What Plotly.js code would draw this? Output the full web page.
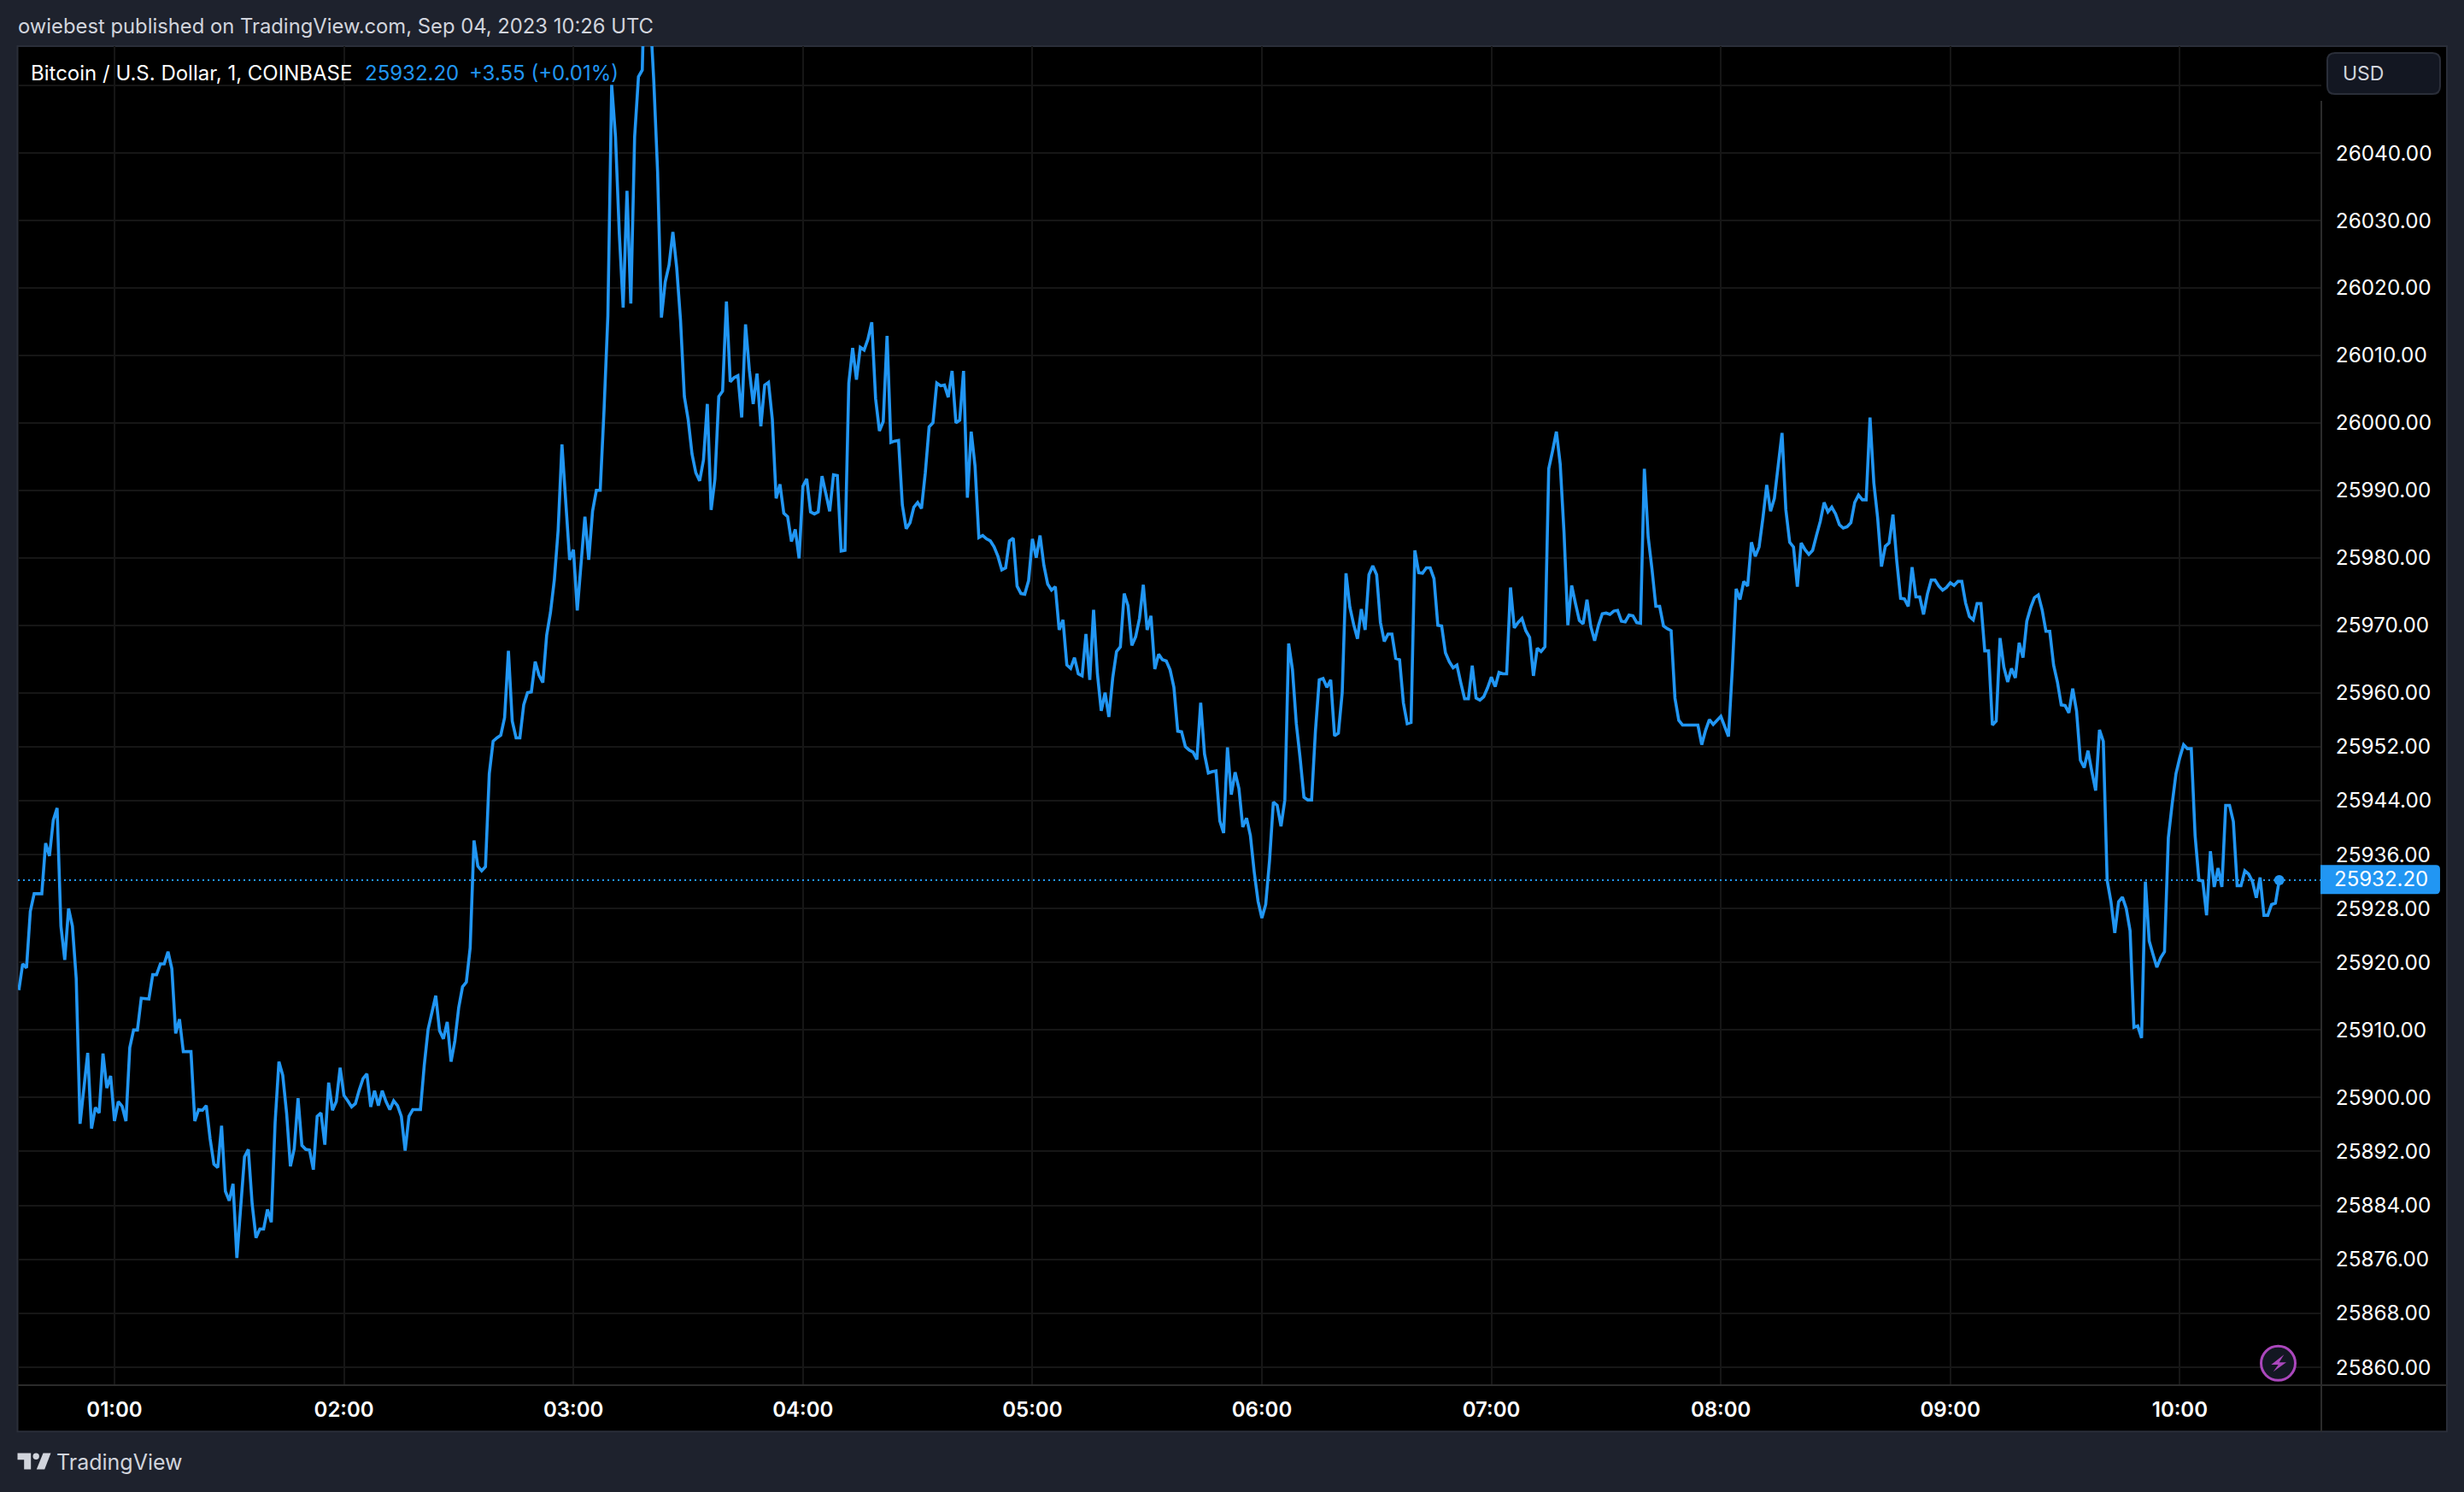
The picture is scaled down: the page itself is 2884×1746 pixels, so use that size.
<!DOCTYPE html>
<html>
<head>
<meta charset="utf-8">
<script src="https://cdn.plot.ly/plotly-3.0.1.min.js"></script>
<style>html,body{margin:0;padding:0;background:#1E222D;}#chart{width:2884px;height:1746px;}</style>
</head>
<body>
<div id="chart"></div>
<script>
// Minutes after 00:00 UTC, 4 Sep 2023
const minutes = [
35,36,37,38,39,41,42,43,44,45,46,47,48,49,50,51,53,54,55,56,57,58,59,
60,61,62,63,64,65,66,67,69,70,71,72,73,74,75,76,77,78,80,81,82,83,84,85,86,87,88,89,90,91,92,94,95,96,97,98,99,100,101,102,103,104,105,106,107,108,109,110,111,112,113,114,115,116,117,118,119,
120,121,122,123,124,125,126,127,128,129,130,131,132,133,134,135,136,137,138,140,141,142,144,145,146,147,148,149,150,151,152,153,154,155,156,157,158,159,160,161,162,163,164,165,166,167,168,169,170,171,172,173,174,175,176,177,179,
180,181,183,184,185,186,187,188,189,190,191,192,193,194,195,196,197,198,199,200,201,202,203,204,205,206,207,208,209,210,211,212,213,214,215,216,217,218,219,220,221,222,223,224,225,226,227,228,229,230,231,232,233,234,235,236,237,238,239,
240,241,242,243,244,245,246,247,248,249,250,251,252,253,254,255,256,257,258,259,260,261,262,263,264,265,266,267,268,269,270,271,272,273,274,275,276,277,278,279,280,281,282,283,284,285,286,287,288,289,290,291,292,293,294,295,296,297,298,299,
300,301,302,303,304,305,306,307,308,309,310,311,312,313,314,315,316,317,318,319,320,321,322,323,324,325,326,327,328,329,330,331,332,333,334,335,336,337,338,339,340,341,342,343,344,345,346,347,348,349,350,351,352,353,354,355,356,357,358,359,
360,361,362,363,364,365,366,367,368,369,370,371,372,373,374,375,376,377,378,379,380,381,382,383,384,385,386,387,388,389,390,391,392,393,394,395,396,397,398,399,400,401,402,403,404,405,406,407,408,409,410,411,412,413,414,415,416,417,418,419,
420,421,422,423,424,425,426,427,428,429,430,431,432,433,434,435,436,437,438,439,440,441,442,443,444,445,446,447,448,449,450,451,452,453,454,455,456,457,458,459,460,461,462,463,464,465,466,467,468,469,470,471,472,473,474,475,476,477,478,479,
480,481,482,483,484,485,486,487,488,489,490,491,492,493,494,495,496,497,498,499,500,501,502,503,504,505,506,507,508,509,510,511,512,513,514,515,516,517,518,519,520,521,522,523,524,525,526,527,528,529,530,531,532,533,534,535,536,537,538,539,
540,541,542,543,544,545,546,547,548,549,550,551,552,553,554,555,556,557,558,559,560,561,562,563,564,565,566,567,568,569,570,571,572,573,574,575,576,577,578,579,580,581,582,583,584,585,586,587,588,589,590,591,592,593,594,595,596,597,598,599,
600,601,602,603,604,605,606,607,608,609,610,611,612,613,614,615,616,617,618,619,620,621,622,623,624,625,626
];
const prices = [
25915.9,25919.8,25919.2,25927.6,25930.2,25930.2,25937.7,25935.8,25941.1,25942.9,25925.4,25920.4,25928.0,25925.4,25917.6,25896.1,25906.6,25895.4,25898.5,25897.7,25906.5,25901.4,25903.2,
25896.5,25899.4,25898.7,25896.5,25907.4,25910.0,25910.0,25914.7,25914.6,25918.2,25918.2,25919.8,25919.8,25921.6,25919.1,25909.5,25911.6,25906.8,25906.8,25896.5,25898.2,25898.1,25898.8,25893.9,25890.1,25889.6,25895.8,25886.1,25884.7,25887.2,25876.2,25891.2,25892.3,25884.2,25879.2,25880.5,25880.5,25883.4,25881.5,25896.3,25905.3,25903.3,25897.7,25889.8,25892.4,25899.9,25892.9,25892.3,25892.2,25889.3,25897.2,25897.7,25893.0,25902.2,25898.1,25899.4,25904.4,
25900.3,25899.5,25898.6,25899.1,25901.1,25902.8,25903.5,25898.6,25901.0,25898.8,25901.0,25899.4,25898.2,25899.5,25898.8,25897.2,25892.1,25897.2,25898.2,25898.2,25904.8,25910.1,25915.1,25909.9,25908.7,25911.2,25905.3,25908.4,25913.3,25916.4,25917.1,25922.2,25938.1,25934.3,25933.6,25934.2,25948.0,25952.8,25953.3,25953.7,25956.3,25966.2,25955.8,25953.3,25953.3,25958.2,25960.0,25960.1,25964.6,25962.6,25961.5,25968.5,25971.9,25976.7,25984.1,25996.8,25979.7,
25981.2,25972.2,25986.1,25979.7,25986.9,25990.0,25990.0,26001.9,26015.8,26050.1,26042.4,26028.0,26017.1,26034.4,26017.7,26042.4,26051.3,26052.3,26075.6,26061.4,26050.8,26037.3,26015.6,26020.9,26023.4,26028.3,26023.0,26015.2,26003.9,26000.5,25995.4,25992.6,25991.4,25994.5,26002.8,25987.1,25991.7,26003.9,26004.7,26018.0,26006.1,26006.7,26007.0,26000.8,26014.6,26007.8,26002.8,26007.3,25999.5,26005.6,26006.0,26000.5,25988.8,25990.9,25986.6,25986.1,25982.4,25984.2,25979.9,
25990.6,25991.7,25986.8,25986.5,25986.8,25992.1,25989.5,25986.9,25992.3,25992.2,25981.0,25981.1,26005.9,26011.1,26006.4,26011.2,26010.8,26012.4,26014.9,26003.6,25998.8,26000.2,26012.9,25997.1,25997.3,25997.4,25987.8,25984.3,25985.2,25987.5,25988.2,25987.3,25992.6,25999.4,26000.0,26005.9,26005.5,26005.6,26003.8,26007.7,26000.0,26000.4,26007.7,25988.9,25998.7,25993.6,25983.0,25983.3,25982.8,25982.5,25981.6,25980.2,25978.2,25978.5,25982.5,25982.9,25975.8,25974.7,25974.6,25976.6,
25982.8,25980.0,25983.3,25978.9,25976.1,25975.2,25975.7,25969.3,25970.8,25964.1,25963.6,25965.2,25962.8,25962.5,25968.7,25961.9,25972.3,25962.8,25957.3,25960.0,25956.4,25962.2,25966.1,25966.8,25974.7,25972.9,25967.0,25968.3,25971.0,25976.0,25969.3,25971.4,25963.5,25965.7,25964.9,25964.7,25963.4,25960.8,25954.3,25954.2,25952.0,25951.5,25951.2,25950.1,25958.5,25950.9,25948.1,25948.3,25948.4,25941.0,25939.2,25951.9,25944.9,25948.2,25945.8,25940.1,25941.4,25938.8,25933.4,25929.1,
25926.6,25928.6,25935.1,25943.8,25943.3,25940.2,25944.1,25967.3,25963.4,25955.4,25950.3,25944.5,25944.1,25944.1,25954.3,25961.9,25962.1,25960.8,25961.9,25953.6,25954.0,25960.0,25977.7,25972.7,25970.1,25968.0,25972.4,25969.3,25977.5,25978.8,25977.5,25970.4,25967.6,25968.7,25968.7,25965.1,25964.9,25958.5,25955.4,25955.6,25981.1,25977.8,25977.7,25978.5,25978.5,25976.9,25970.0,25969.9,25965.9,25964.6,25963.7,25964.1,25961.5,25959.1,25959.1,25964.0,25959.2,25958.9,25959.4,25960.7,
25962.3,25960.9,25963.0,25962.8,25962.8,25975.6,25969.6,25970.4,25971.0,25969.2,25968.2,25962.5,25966.6,25966.1,25966.8,25993.2,25995.8,25998.7,25993.9,25983.7,25970.0,25975.9,25973.2,25970.7,25970.2,25973.8,25969.8,25967.7,25970.0,25971.7,25971.8,25971.6,25972.1,25972.2,25970.6,25970.5,25971.5,25971.4,25970.4,25970.3,25993.2,25983.1,25978.3,25972.8,25972.8,25969.9,25969.5,25969.2,25959.2,25955.9,25955.2,25955.2,25955.2,25955.2,25955.2,25952.3,25954.4,25956.0,25955.3,25955.9,
25956.5,25955.0,25953.5,25963.5,25975.4,25973.8,25976.5,25975.8,25982.3,25980.2,25981.6,25985.9,25990.8,25986.9,25988.8,25993.7,25998.5,25987.1,25982.3,25981.6,25975.7,25982.2,25981.2,25980.5,25981.1,25983.3,25985.4,25988.2,25986.8,25987.5,25986.5,25984.9,25984.4,25984.6,25985.2,25988.2,25989.3,25988.6,25988.6,26000.8,25991.1,25985.9,25978.7,25981.7,25982.2,25986.4,25979.5,25974.0,25973.9,25972.8,25978.6,25974.2,25974.2,25971.6,25974.6,25976.7,25976.7,25975.8,25975.2,25975.6,
25976.3,25975.9,25976.5,25976.5,25973.3,25971.3,25970.8,25973.2,25973.2,25966.2,25966.2,25955.2,25955.8,25968.1,25963.8,25961.6,25963.6,25962.2,25967.4,25965.2,25970.6,25972.6,25974.1,25974.5,25972.3,25969.1,25969.1,25964.1,25961.6,25958.2,25958.1,25957.0,25960.6,25957.3,25950.0,25948.9,25951.4,25948.3,25945.5,25954.5,25952.8,25932.2,25929.0,25924.4,25929.0,25929.7,25928.0,25924.7,25910.4,25910.6,25908.8,25932.0,25923.2,25921.2,25919.3,25920.7,25921.6,25938.5,25943.5,25948.0,
25950.4,25952.3,25951.7,25951.7,25938.8,25932.2,25932.1,25927.0,25936.5,25931.2,25934.0,25931.2,25943.3,25943.3,25940.9,25931.4,25931.4,25933.6,25933.1,25932.0,25929.6,25932.6,25927.0,25927.0,25928.6,25928.8,25932.2
];
const timeTickVals = [60,120,180,240,300,360,420,480,540,600];
const timeTickText = ["01:00","02:00","03:00","04:00","05:00","06:00","07:00","08:00","09:00","10:00"];
const priceTickVals = [26050,26040,26030,26020,26010,26000,25990,25980,25970,25960,25952,25944,25936,25928,25920,25910,25900,25892,25884,25876,25868,25860];
const priceTickText = ["","26040.00","26030.00","26020.00","26010.00","26000.00","25990.00","25980.00","25970.00","25960.00","25952.00","25944.00","25936.00","25928.00","25920.00","25910.00","25900.00","25892.00","25884.00","25876.00","25868.00","25860.00"];
const lastPrice = 25932.20;
const lastPriceLabel = "25932.20";
const changeLabel = "+3.55 (+0.01%)";
const symbolLabel = "Bitcoin / U.S. Dollar, 1, COINBASE";
const publishedLabel = "owiebest published on TradingView.com, Sep 04, 2023 10:26 UTC";

const BLUE = "#2196F3", FONT = "Inter, 'Liberation Sans', sans-serif", BORDER = "#2A2E39", GRID = "#161616", PANEL = "#1E222D", TXT = "#D1D4DC";
const L = 20.5, R = 2717, T = 54, B = 1620.7;
const px = v => (v - L) / (R - L);
const py = v => 1 - (v - T) / (B - T);
const poly = pts => pts.map((p, i) => (i ? "L" : "M") + px(p[0]) + "," + py(p[1])).join(" ") + " Z";
const rect = (x0, y0, x1, y1, fill, lineColor, lw, layer) => ({type: "rect", xref: "paper", yref: "paper", x0: px(x0), x1: px(x1), y0: py(y0), y1: py(y1), fillcolor: fill, line: {color: lineColor || fill, width: lw === undefined ? 0 : lw}, layer: layer || "below"});
const seg = (x0, y0, x1, y1, color, w) => ({type: "line", xref: "paper", yref: "paper", x0: px(x0), x1: px(x1), y0: py(y0), y1: py(y1), line: {color: color, width: w}, layer: "above"});
const pathShape = (d, fill, layer) => ({type: "path", xref: "paper", yref: "paper", path: d, fillcolor: fill, line: {width: 0}, layer: layer || "above"});
// rounded rectangle in paper space (corner radii given per side as pixels)
const roundRect = (x0, y0, x1, y1, rl, rr) => {
  const m = (x, y) => px(x) + "," + py(y);
  return "M" + m(x0 + rl, y0) + " L" + m(x1 - rr, y0) + " Q" + m(x1, y0) + " " + m(x1, y0 + rr) + " L" + m(x1, y1 - rr) + " Q" + m(x1, y1) + " " + m(x1 - rr, y1) + " L" + m(x0 + rl, y1) + " Q" + m(x0, y1) + " " + m(x0, y1 - rl) + " L" + m(x0, y0 + rl) + " Q" + m(x0, y0) + " " + m(x0 + rl, y0) + " Z";
};

const shapes = [
  rect(20, 54, 2864, 1675, "#000000", BORDER, 2),
  seg(2717, 118, 2717, 1675, "#2B2B2B", 2),
  seg(20, 1620.7, 2864, 1620.7, "#2B2B2B", 2),
  {type: "line", xref: "paper", yref: "y", x0: 0, x1: 1, y0: lastPrice, y1: lastPrice, line: {color: BLUE, width: 2, dash: "2px,4px"}, layer: "above"},
  pathShape(roundRect(2716, 1012, 2856, 1046, 0, 5), BLUE),
  Object.assign(pathShape(roundRect(2724, 62, 2856, 110, 9, 9), "#131722"), {line: {color: BORDER, width: 2}}),
  // TradingView logo
  pathShape(poly([[20,1700.3],[35.7,1700.3],[35.7,1719.3],[27.7,1719.3],[27.7,1708],[20,1708]]), TXT),
  pathShape(poly([[50,1700.3],[59,1700.3],[51.7,1719.3],[42.3,1719.3]]), TXT),
  {type: "circle", xref: "paper", yref: "paper", x0: px(38), x1: px(45.4), y0: py(1700.3), y1: py(1707.7), fillcolor: TXT, line: {width: 0}, layer: "above"},
  // lightning badge
  {type: "circle", xref: "paper", yref: "paper", x0: px(2646.5), x1: px(2686.5), y0: py(1575), y1: py(1615), fillcolor: "#131722", line: {color: "#AB47BC", width: 3}, layer: "above"},
  pathShape(poly([[2673.3,1585],[2658.3,1596.7],[2666.7,1596.7],[2660.7,1605],[2676,1594],[2667.7,1594]]), "#AB47BC")
];

const note = (text, x, y, color, size, anchor) => ({text: text, xref: "paper", yref: "paper", x: px(x), y: py(y), xanchor: anchor || "left", yanchor: "middle", showarrow: false, font: {family: FONT, color: color, size: size}});
const annotations = [
  note(publishedLabel, 18, 31, TXT, 23.8),
  note(symbolLabel, 33.5, 85, "#FFFFFF", 24),
  note(lastPriceLabel, 424.5, 85, BLUE, 24),
  note(changeLabel, 547, 85, BLUE, 24),
  note("USD", 2740, 86, TXT, 23),
  note(lastPriceLabel, 2730, 1028.5, "#FFFFFF", 24),
  note("TradingView", 64, 1711, TXT, 25)
];

const traces = [
  {x: minutes, y: prices, type: "scatter", mode: "lines", line: {color: BLUE, width: 3.6, simplify: false}, hoverinfo: "skip"},
  {x: [minutes[minutes.length - 1]], y: [prices[prices.length - 1]], type: "scatter", mode: "markers", marker: {color: BLUE, size: 12}, hoverinfo: "skip"}
];

const layout = {
  width: 2884, height: 1746,
  margin: {l: L, r: 2884 - R, t: T, b: 1746 - B, pad: 0},
  paper_bgcolor: PANEL, plot_bgcolor: "#000000",
  showlegend: false,
  font: {family: FONT, color: "#FFFFFF"},
  xaxis: {type: "linear", range: [34.76, 637.0], tickmode: "array", tickvals: timeTickVals, ticktext: timeTickText,
    showgrid: true, gridcolor: GRID, gridwidth: 2, zeroline: false, showline: false,
    ticks: "outside", ticklen: 7, tickcolor: "rgba(0,0,0,0)", tickfont: {family: FONT, size: 24, color: "#FFFFFF", weight: 600}},
  yaxis: {type: "linear", side: "right", range: [25857.35, 26055.84], tickmode: "array", tickvals: priceTickVals, ticktext: priceTickText,
    showgrid: true, gridcolor: GRID, gridwidth: 2, zeroline: false, showline: false,
    ticks: "outside", ticklen: 11, tickcolor: "rgba(0,0,0,0)", tickfont: {family: FONT, size: 24.3, color: "#FFFFFF"}},
  shapes: shapes,
  annotations: annotations
};
Plotly.newPlot("chart", traces, layout, {displayModeBar: false, staticPlot: true});
</script>
</body>
</html>
